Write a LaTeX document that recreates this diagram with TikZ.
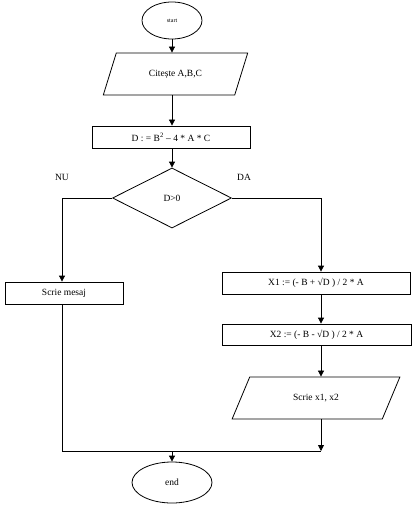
\documentclass[tikz,border=0pt]{standalone}
\usepackage{fontspec}
\setmainfont{Liberation Serif}
\usetikzlibrary{shapes.geometric,arrows.meta}
\begin{document}
\begin{tikzpicture}[x=1pt,y=-1pt,
  font=\fontsize{9.5}{11}\selectfont,
  line width=0.8pt,
  every node/.style={line width=0.8pt},
  arr/.style={-{Triangle[width=6pt,length=6pt]}},
  term/.style={draw,ellipse,inner sep=0pt},
  proc/.style={draw,rectangle,inner sep=0pt},
  io/.style={draw,trapezium,trapezium stretches=true,inner sep=0pt},
  dec/.style={draw,diamond,inner sep=0pt}]
\useasboundingbox (0,0) rectangle (413,505);
\node[term,minimum width=60pt,minimum height=37pt] (start) at (172,20.5) {\fontsize{6}{7}\selectfont start};
\node[io,trapezium left angle=55,trapezium right angle=125,minimum width=145pt,minimum height=42pt] (read) at (175.5,74) {Citește A,B,C};
\node[proc,minimum width=158pt,minimum height=22pt] (dcalc) at (171,137) {D : = B\textsuperscript{2} – 4 * A * C};
\node[dec,minimum width=119pt,minimum height=60pt] (cond) at (172,198) {D>0};
\node (nu) at (62,177) {NU};
\node (da) at (244,177) {DA};
\node[proc,minimum width=118pt,minimum height=22pt] (mesaj) at (64,293) {Scrie mesaj};
\node[proc,minimum width=188pt,minimum height=22pt] (x1) at (316,283) {X1 := (- B + √D ) / 2 * A};
\node[proc,minimum width=189pt,minimum height=21pt] (x2) at (316.5,334.5) {X2 := (- B - √D ) / 2 * A};
\node[io,trapezium left angle=52,trapezium right angle=128,minimum width=168pt,minimum height=42pt] (write) at (316,398) {Scrie x1, x2};
\node[term,minimum width=80pt,minimum height=41pt] (stop) at (172,482.5) {end};
\coordinate (rx) at (321,0);
\coordinate (lx) at (62,0);
\coordinate (mx) at (172,0);
\coordinate (j1) at (321,451);
\coordinate (j2) at (172,451);
\draw[arr] (start.south) -- (start.south |- read.north);
\draw[arr] (mx |- read.south) -- (mx |- dcalc.north);
\draw[arr] (mx |- dcalc.south) -- (cond.north);
\draw[arr] (cond.west) -| (lx |- mesaj.north);
\draw[arr] (cond.east) -| (rx |- x1.north);
\draw[arr] (rx |- x1.south) -- (rx |- x2.north);
\draw[arr] (rx |- x2.south) -- (rx |- write.north);
\draw[arr] (rx |- write.south) -- (j1);
\draw (lx |- mesaj.south) |- (j1);
\draw[arr] (j2) -- (stop.north);
\end{tikzpicture}
\end{document}
